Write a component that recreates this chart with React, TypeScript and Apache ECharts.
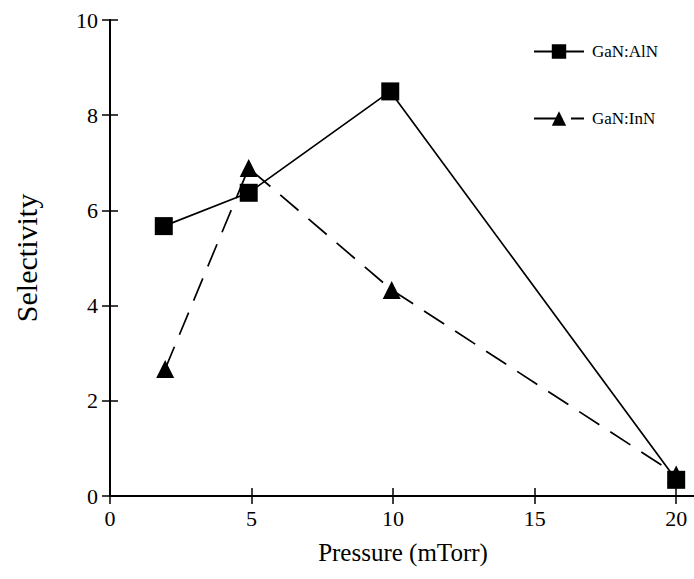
import React, { useEffect, useRef } from "react";
import * as echarts from "echarts";

const seriesNames = ["GaN:AlN", "GaN:InN"];
const alnPressure = [1.9, 4.9, 9.9, 20];
const alnSelectivity = [5.67, 6.37, 8.5, 0.34];
const innPressure = [1.95, 4.9, 9.95, 20];
const innSelectivity = [2.67, 6.89, 4.33, 0.45];
const xTicks = { min: 0, max: 20.7, interval: 5 };
const yTicks = { min: 0, max: 10, interval: 2 };

const FONT = "Liberation Serif";

export default function App() {
  const ref = useRef<HTMLDivElement>(null);
  useEffect(() => {
    if (!ref.current) return;
    const chart = echarts.init(ref.current, null, { renderer: "svg" });
    const axisLine = { show: true, lineStyle: { color: "#000", width: 2 } };
    const axisTick = { show: true, inside: true, length: 8, lineStyle: { color: "#000", width: 1.5 } };
    const labelStyle = { color: "#000", fontSize: 22, fontFamily: FONT };
    chart.setOption({
      animation: false,
      backgroundColor: "#fff",
      grid: { left: 110, top: 20, right: 4, bottom: 83, containLabel: false },
      legend: {
        orient: "vertical",
        left: 528,
        top: 38,
        itemGap: 50,
        itemWidth: 50,
        itemHeight: 18,
        textStyle: { color: "#000", fontSize: 17, fontFamily: FONT, padding: [0, 0, 0, 3] },
        data: seriesNames,
      },
      xAxis: [
        {
          type: "value",
          position: "bottom",
          min: xTicks.min,
          max: xTicks.max,
          interval: xTicks.interval,
          axisLine,
          axisTick,
          splitLine: { show: false },
          axisLabel: { ...labelStyle, margin: 11, showMaxLabel: false },
          name: "Pressure (mTorr)",
          nameLocation: "middle",
          nameGap: 44,
          nameTextStyle: { color: "#000", fontSize: 25, fontFamily: FONT },
        },
        {
          type: "value",
          position: "top",
          min: xTicks.min,
          max: xTicks.max,
          interval: xTicks.interval,
          axisLine,
          axisTick,
          splitLine: { show: false },
          axisLabel: { show: false },
        },
      ],
      yAxis: [
        {
          type: "value",
          position: "left",
          min: yTicks.min,
          max: yTicks.max,
          interval: yTicks.interval,
          axisLine,
          axisTick,
          splitLine: { show: false },
          axisLabel: { ...labelStyle, margin: 12 },
          name: "Selectivity",
          nameLocation: "middle",
          nameGap: 69,
          nameRotate: 90,
          nameTextStyle: { color: "#000", fontSize: 30, fontFamily: FONT },
        },
        {
          type: "value",
          position: "right",
          min: yTicks.min,
          max: yTicks.max,
          interval: yTicks.interval,
          axisLine,
          axisTick,
          splitLine: { show: false },
          axisLabel: { show: false },
        },
      ],
      series: [
        {
          name: seriesNames[1],
          type: "line",
          data: innPressure.map((p, i) => [p, innSelectivity[i]]),
          symbol: "triangle",
          symbolSize: 18,
          itemStyle: { color: "#000" },
          lineStyle: { color: "#000", width: 1.7, type: [24, 13] },
          z: 2,
        },
        {
          name: seriesNames[0],
          type: "line",
          data: alnPressure.map((p, i) => [p, alnSelectivity[i]]),
          symbol: "rect",
          symbolSize: 18,
          itemStyle: { color: "#000" },
          lineStyle: { color: "#000", width: 1.7, type: "solid" },
          z: 3,
        },
      ],
    });
    return () => chart.dispose();
  }, []);
  return (
    <div style={{ position: "absolute", left: 0, top: 0, width: 694, height: 579, overflow: "hidden", background: "#fff" }}>
      <div ref={ref} style={{ width: 700, height: 579 }} />
    </div>
  );
}
